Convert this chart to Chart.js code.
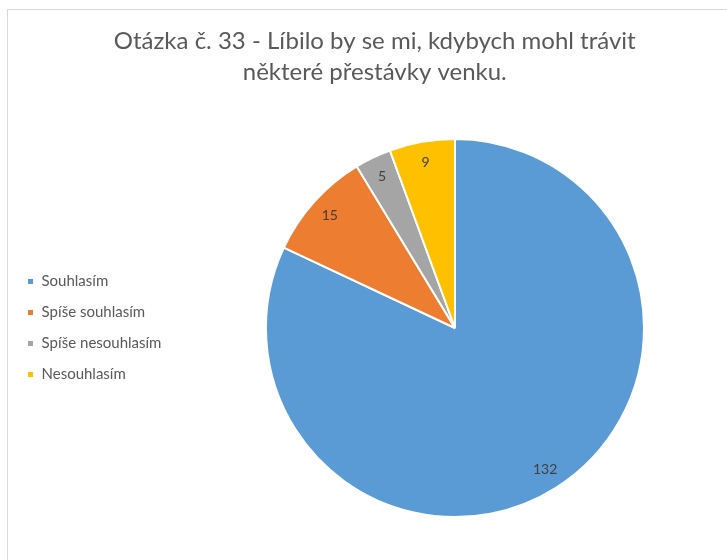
<!DOCTYPE html>
<html>
<head>
<meta charset="utf-8">
<script src="https://cdn.jsdelivr.net/npm/chart.js@4"></script>
<style>
  html, body { margin: 0; padding: 0; background: #fff; overflow: hidden; }
  #frame {
    position: absolute; left: 7px; top: 9px;
    width: 740px; height: 560px;
    border: 1px solid #d9d9d9; background: #fff;
  }
</style>
</head>
<body>
<div id="frame"><canvas id="chart-1" width="740" height="560"></canvas></div>
<script>
const labels = ["Souhlasím", "Spíše souhlasím", "Spíše nesouhlasím", "Nesouhlasím"];
const answers = [132, 15, 5, 9];
const colors = ["#5B9BD5", "#ED7D31", "#A5A5A5", "#FFC000"];
const titleLines = ["Otázka č. 33 - Líbilo by se mi, kdybych mohl trávit", "některé přestávky venku."];

// values written inside each slice, near the rim
const sliceLabels = {
  id: "sliceLabels",
  afterDatasetsDraw(chart) {
    const ctx = chart.ctx;
    const meta = chart.getDatasetMeta(0);
    ctx.save();
    ctx.font = "14px Lato";
    ctx.fillStyle = "#404040";
    ctx.textAlign = "center";
    ctx.textBaseline = "middle";
    meta.data.forEach((arc, i) => {
      const p = arc.getProps(["x", "y", "startAngle", "endAngle", "outerRadius"], true);
      const mid = (p.startAngle + p.endAngle) / 2;
      const r = p.outerRadius * 0.89;
      ctx.fillText(String(answers[i]), p.x + Math.cos(mid) * r, p.y + Math.sin(mid) * r);
    });
    ctx.restore();
  }
};

const ctx1 = document.getElementById("chart-1").getContext("2d");
const myChart = new Chart(ctx1, {
  type: "pie",
  data: {
    labels: labels,
    datasets: [
      {
        label: "Odpovědi",
        data: answers,
        backgroundColor: colors,
        borderColor: "#ffffff",
        borderWidth: 2,
      },
    ],
  },
  options: {
    responsive: false,
    animation: false,
    layout: { padding: { left: 3, right: 9.5, top: 0, bottom: 52 } },
    plugins: {
      title: {
        display: true,
        text: titleLines,
        color: "#595959",
        font: { family: "Lato", size: 24, weight: "normal", lineHeight: 1.27 },
        padding: { top: 16.5, bottom: 50.5 },
      },
      legend: {
        position: "left",
        fullSize: false,
        labels: {
          boxWidth: 7,
          boxHeight: 7,
          padding: 16,
          color: "#595959",
          font: { family: "Lato", size: 15 },
        },
      },
      tooltip: { enabled: false },
    },
  },
  plugins: [sliceLabels],
});
</script>
</body>
</html>
